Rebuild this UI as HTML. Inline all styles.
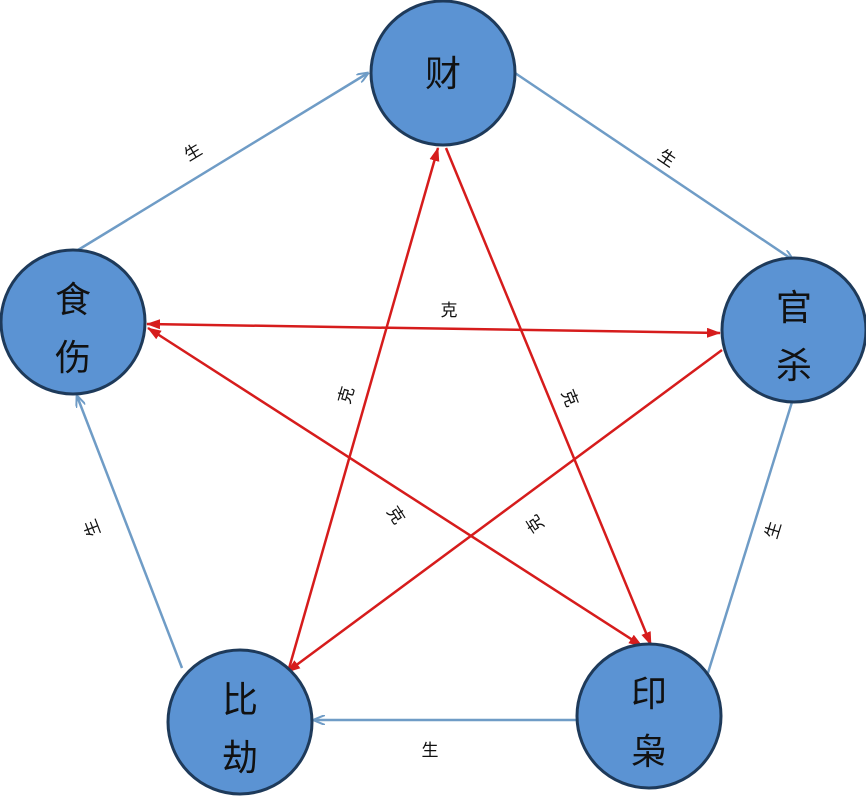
<!DOCTYPE html>
<html><head><meta charset="utf-8"><style>
html,body{margin:0;padding:0;background:#fff;}
svg{display:block;}
text{font-family:"Liberation Sans","Noto Sans CJK SC",sans-serif;fill:#111;}
</style></head><body>
<svg width="866" height="800" viewBox="0 0 866 800" xmlns="http://www.w3.org/2000/svg">
<defs>
<marker id="ab" markerWidth="12" markerHeight="10" refX="11" refY="5" orient="auto" markerUnits="userSpaceOnUse"><path d="M0,0 L12,5 L0,10" fill="none" stroke="#6f9cc6" stroke-width="2"/></marker>
<marker id="ar" markerWidth="14" markerHeight="10" refX="13" refY="5" orient="auto-start-reverse" markerUnits="userSpaceOnUse"><path d="M0,0 L14,5 L0,10 z" fill="#d61c1c"/></marker>
</defs>
<g stroke="#6f9cc6" stroke-width="2.5" fill="none">
<line x1="78" y1="250" x2="368" y2="73" marker-end="url(#ab)"/>
<line x1="515" y1="73" x2="793" y2="260" marker-end="url(#ab)"/>
<line x1="792" y1="402" x2="707" y2="676"/>
<line x1="577" y1="720" x2="314" y2="720" marker-end="url(#ab)"/>
<line x1="182" y1="668" x2="77" y2="396" marker-end="url(#ab)"/>
</g>
<g stroke="#d61c1c" stroke-width="2.5" fill="none">
<line x1="147" y1="324" x2="720" y2="333" marker-start="url(#ar)" marker-end="url(#ar)"/>
<line x1="288" y1="672" x2="438" y2="148" marker-end="url(#ar)"/>
<line x1="446" y1="148" x2="651" y2="645" marker-end="url(#ar)"/>
<line x1="722" y1="350" x2="287" y2="672" marker-end="url(#ar)"/>
<line x1="148" y1="328" x2="642" y2="646" marker-start="url(#ar)" marker-end="url(#ar)"/>
</g>
<g fill="#5b93d3" stroke="#1e3a5a" stroke-width="3">
<circle cx="443" cy="73" r="72"/>
<circle cx="794" cy="330" r="72"/>
<circle cx="649" cy="716" r="72"/>
<circle cx="240" cy="722" r="72"/>
<circle cx="73" cy="322" r="72"/>
</g>
<g font-size="36" text-anchor="middle">
<text x="443" y="86">财</text>
<text x="794" y="320">官</text><text x="794" y="378">杀</text>
<text x="649" y="706">印</text><text x="649" y="764">枭</text>
<text x="240" y="712">比</text><text x="240" y="770">劫</text>
<text x="73" y="312">食</text><text x="73" y="370">伤</text>
</g>
<g font-size="17" text-anchor="middle">
<text transform="translate(193,152) rotate(-31)" y="6">生</text>
<text transform="translate(667,158) rotate(34)" y="6">生</text>
<text transform="translate(92,528) rotate(-111)" y="6">生</text>
<text transform="translate(773,530) rotate(-73)" y="6">生</text>
<text x="430" y="756">生</text>
<text x="449" y="316">克</text>
<text transform="translate(346,395) rotate(-74)" y="6">克</text>
<text transform="translate(570,398) rotate(68)" y="6">克</text>
<text transform="translate(396,515) rotate(57)" y="6">克</text>
<text transform="translate(535,524) rotate(-123)" y="6">克</text>
</g>
</svg>
</body></html>
